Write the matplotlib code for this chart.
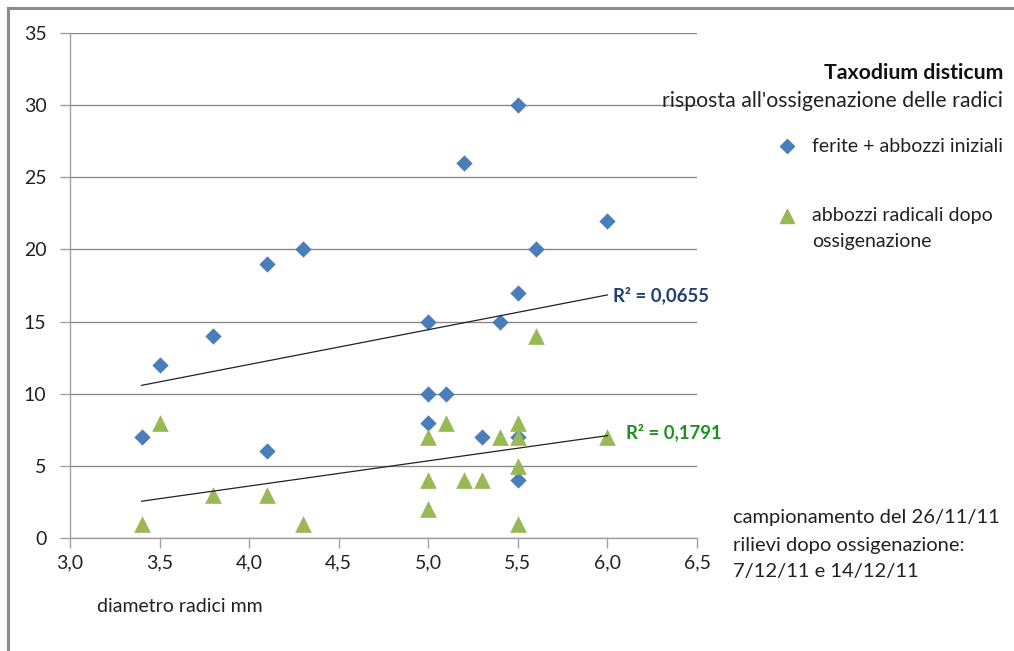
import numpy as np
import matplotlib
matplotlib.use("Agg")
import matplotlib.pyplot as plt
from matplotlib.lines import Line2D

plt.rcParams['font.family'] = ['Lato', 'DejaVu Sans']

# Data
ferite_x = [3.4, 3.5, 3.8, 4.1, 4.1, 4.3, 5.0, 5.0, 5.0, 5.1, 5.2, 5.3, 5.4, 5.5, 5.5, 5.5, 5.5, 5.6, 6.0]
ferite_y = [7, 12, 14, 19, 6, 20, 15, 10, 8, 10, 26, 7, 15, 30, 17, 7, 4, 20, 22]
abbozzi_x = [3.4, 3.5, 3.8, 4.1, 4.3, 5.0, 5.0, 5.0, 5.1, 5.2, 5.3, 5.4, 5.5, 5.5, 5.5, 5.5, 5.6, 6.0]
abbozzi_y = [1, 8, 3, 3, 1, 7, 4, 2, 8, 4, 4, 7, 8, 7, 5, 1, 14, 7]
x_ticks = [3.0, 3.5, 4.0, 4.5, 5.0, 5.5, 6.0, 6.5]
y_ticks = [0, 5, 10, 15, 20, 25, 30, 35]
r2_ferite = "R² = 0,0655"
r2_abbozzi = "R² = 0,1791"

W, H = 1014, 651
fig = plt.figure(figsize=(W / 100, H / 100), dpi=100)

# outer frame
fig.add_artist(Line2D([7.5 / W, 7.5 / W], [0, 1 - 7.5 / H], color='#8c8c8c', lw=2.2, transform=fig.transFigure))
fig.add_artist(Line2D([7.5 / W, 1], [1 - 7.5 / H, 1 - 7.5 / H], color='#8c8c8c', lw=2.2, transform=fig.transFigure))

ax = fig.add_axes([70 / W, 1 - 538 / H, (697 - 70) / W, (538 - 33) / H])
ax.set_xlim(3.0, 6.5)
ax.set_ylim(0, 35)
ax.set_xticks(x_ticks)
ax.set_yticks(y_ticks)
ax.set_xticklabels([f"{v:.1f}".replace('.', ',') for v in x_ticks])
ax.set_yticklabels([str(v) for v in y_ticks])
for s in ['top', 'right']:
    ax.spines[s].set_visible(False)
for s in ['left', 'bottom']:
    ax.spines[s].set_color('#a0a0a0')
    ax.spines[s].set_linewidth(1)
ax.tick_params(axis='both', colors='#a0a0a0', labelcolor='#222222', labelsize=14, length=7, width=1, direction='out')
ax.tick_params(axis='x', pad=5)
ax.tick_params(axis='y', pad=10)
ax.yaxis.grid(True, color='#8a8a8a', lw=1)
ax.set_axisbelow(True)

ax.scatter(ferite_x, ferite_y, marker='D', s=8.3 ** 2, color='#4A7EBB', zorder=3, linewidths=0)
ax.scatter(abbozzi_x, abbozzi_y, marker='^', s=12 ** 2, color='#98B954', zorder=3, linewidths=0)

# linear trend lines
for xs, ys in [(ferite_x, ferite_y), (abbozzi_x, abbozzi_y)]:
    k, b = np.polyfit(xs, ys, 1)
    xx = np.array([min(xs), max(xs)])
    ax.plot(xx, k * xx + b, color='#222222', lw=0.9, zorder=4)

def ftxt(x, y, s, **kw):
    fig.text(x / W, 1 - y / H, s, **kw)

ftxt(613, 295, r2_ferite, fontsize=13.3, fontweight='bold', color='#1F3F6E', va='center', ha='left')
ftxt(626, 432, r2_abbozzi, fontsize=13.3, fontweight='bold', color='#1E9020', va='center', ha='left')

ftxt(1003, 73, "Taxodium disticum", fontsize=15.3, fontweight='bold', color='#111111', va='center', ha='right')
ftxt(1003, 101, "risposta all'ossigenazione delle radici", fontsize=15.3, color='#222222', va='center', ha='right')

fig.add_artist(Line2D([787 / W], [1 - 146 / H], marker='D', markersize=7, color='#4A7EBB', lw=0, transform=fig.transFigure))
fig.add_artist(Line2D([787 / W], [1 - 216 / H], marker='^', markersize=9.5, color='#98B954', lw=0, transform=fig.transFigure))
ftxt(812, 146, "ferite + abbozzi iniziali", fontsize=14, color='#222222', va='center', ha='left')
ftxt(812, 216, "abbozzi radicali dopo", fontsize=14, color='#222222', va='center', ha='left')
ftxt(812, 241, "ossigenazione", fontsize=14, color='#222222', va='center', ha='left')

ftxt(733, 518, "campionamento del 26/11/11", fontsize=14.5, color='#222222', va='center', ha='left')
ftxt(733, 545, "rilievi dopo ossigenazione:", fontsize=14.5, color='#222222', va='center', ha='left')
ftxt(733, 571, "7/12/11 e 14/12/11", fontsize=14.5, color='#222222', va='center', ha='left')

ftxt(97, 607, "diametro radici mm", fontsize=14, color='#222222', va='center', ha='left')

fig.savefig("out.png", dpi=100)
